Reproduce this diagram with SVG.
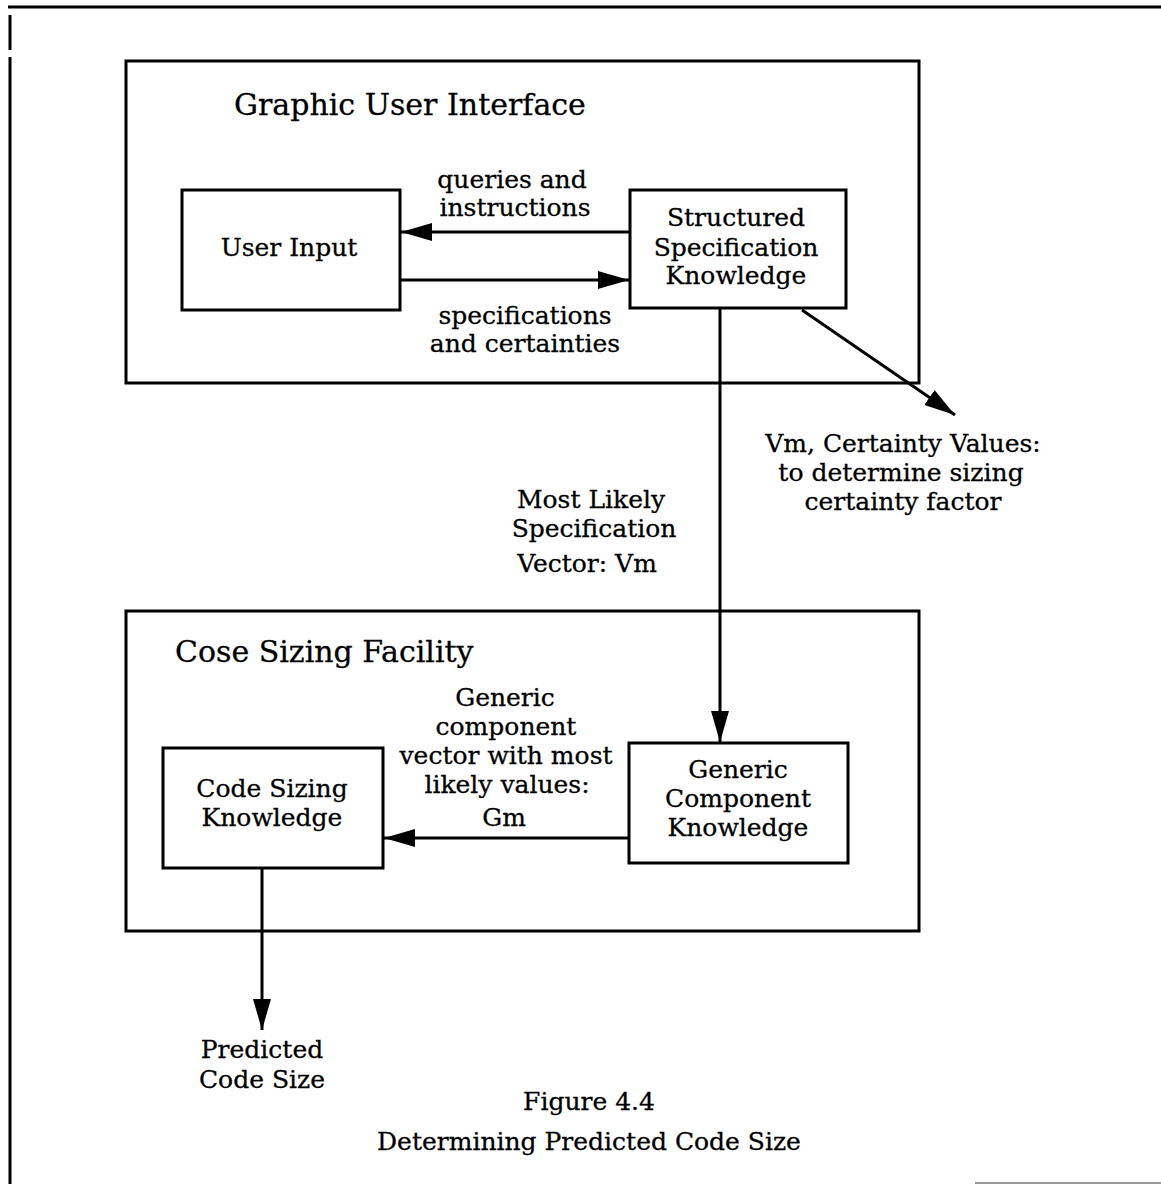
<svg xmlns="http://www.w3.org/2000/svg" width="1161" height="1184" viewBox="0 0 1161 1184">
<style>
.box{fill:none;stroke:#000;stroke-width:3}
.ln{fill:none;stroke:#000;stroke-width:3}
text{font-family:"DejaVu Serif","Liberation Serif",serif;fill:#000;font-size:25px;text-anchor:middle;stroke:#000;stroke-width:0.3}
.title{font-size:30px;text-anchor:start}
</style>
<defs>
<marker id="ah" markerUnits="userSpaceOnUse" markerWidth="34" markerHeight="20" refX="31" refY="9" orient="auto">
<path d="M0,0 L31,9 L0,18 Z" fill="#000"/>
</marker>
</defs>
<rect width="1161" height="1184" fill="#fff"/>
<g id="frame">
<line class="ln" x1="8" y1="7" x2="1161" y2="7"/>
<line class="ln" x1="10" y1="15" x2="10" y2="50"/>
<line class="ln" x1="10" y1="57" x2="10" y2="1184"/>
<line x1="975" y1="1183" x2="1161" y2="1183" stroke="#999" stroke-width="2"/>
</g>
<g id="gui">
<rect class="box" x="126" y="61" width="793" height="322"/>
<text class="title" x="234" y="115">Graphic User Interface</text>
</g>
<g id="user-input">
<rect class="box" x="182" y="190" width="218" height="120"/>
<text x="289" y="256">User Input</text>
</g>
<g id="structured-spec">
<rect class="box" x="630" y="190" width="216" height="118"/>
<text x="736" y="226">Structured</text>
<text x="736" y="256">Specification</text>
<text x="736" y="284">Knowledge</text>
</g>
<g id="csf">
<rect class="box" x="126" y="611" width="793" height="320"/>
<text class="title" x="175" y="662">Cose Sizing Facility</text>
</g>
<g id="code-sizing">
<rect class="box" x="163" y="748" width="220" height="120"/>
<text x="272" y="797">Code Sizing</text>
<text x="272" y="826">Knowledge</text>
</g>
<g id="generic-component">
<rect class="box" x="629" y="743" width="219" height="120"/>
<text x="738" y="778">Generic</text>
<text x="738" y="807">Component</text>
<text x="738" y="836">Knowledge</text>
</g>
<g id="connectors">
<line class="ln" x1="630" y1="232" x2="401" y2="232" marker-end="url(#ah)"/>
<line class="ln" x1="401" y1="280" x2="629" y2="280" marker-end="url(#ah)"/>
<line class="ln" x1="720" y1="308" x2="720" y2="742" marker-end="url(#ah)"/>
<line class="ln" x1="802" y1="310" x2="955" y2="415" marker-end="url(#ah)"/>
<line class="ln" x1="629" y1="838" x2="384" y2="838" marker-end="url(#ah)"/>
<line class="ln" x1="262" y1="868" x2="262" y2="1030" marker-end="url(#ah)"/>
</g>
<g id="labels">
<text x="512" y="188">queries and</text>
<text x="515" y="216">instructions</text>
<text x="525" y="324">specifications</text>
<text x="525" y="352">and certainties</text>
<text x="903" y="452">Vm, Certainty Values:</text>
<text x="901" y="481">to determine sizing</text>
<text x="903" y="510">certainty factor</text>
<text x="591" y="508">Most Likely</text>
<text x="594" y="537">Specification</text>
<text x="587" y="572">Vector: Vm</text>
<text x="505" y="706">Generic</text>
<text x="506" y="735">component</text>
<text x="506" y="764">vector with most</text>
<text x="507" y="793">likely values:</text>
<text x="504" y="826">Gm</text>
<text x="262" y="1058">Predicted</text>
<text x="262" y="1088">Code Size</text>
<text x="589" y="1110">Figure 4.4</text>
<text x="589" y="1150">Determining Predicted Code Size</text>
</g>
</svg>
